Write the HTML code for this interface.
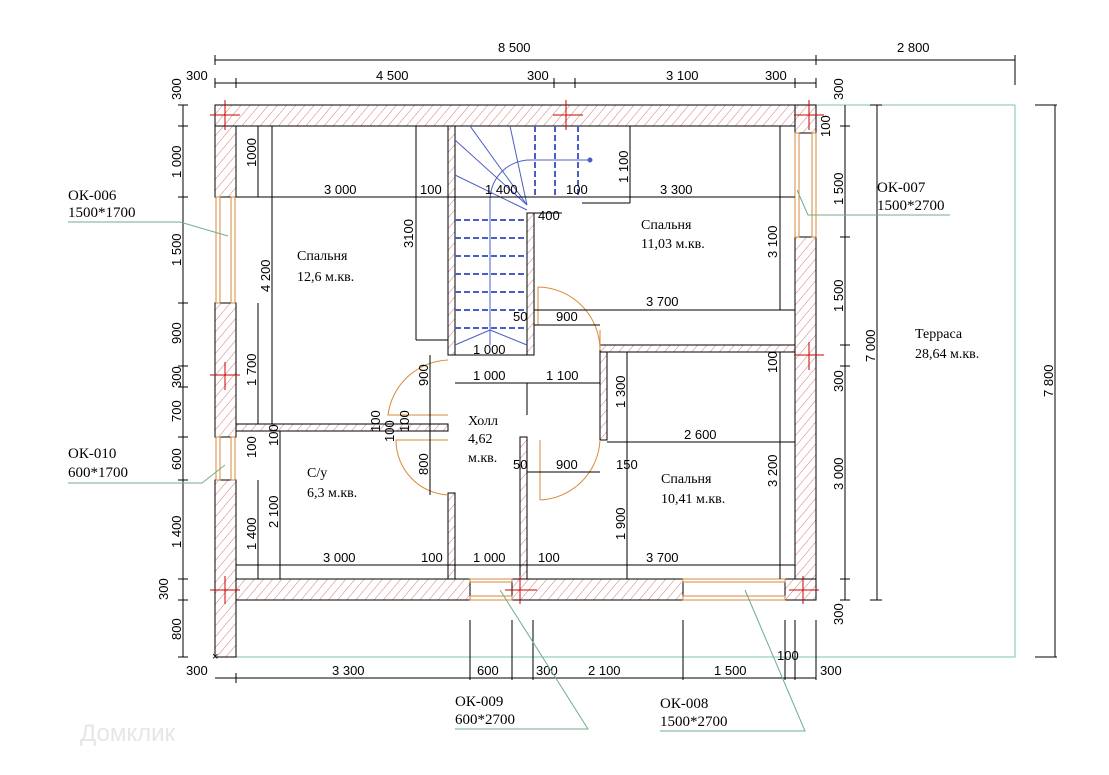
<!DOCTYPE html>
<html><head><meta charset="utf-8"><style>
html,body{margin:0;padding:0;background:#fff;}
svg{display:block;}
text{font-family:"Liberation Sans",sans-serif;font-size:13px;fill:#000;}
.s{font-family:"Liberation Serif",serif;font-size:15px;}
.r{font-family:"Liberation Serif",serif;font-size:14px;}
</style></head><body>
<svg width="1109" height="775" viewBox="0 0 1109 775" xmlns="http://www.w3.org/2000/svg">
<defs>
<pattern id="h" width="7" height="7" patternUnits="userSpaceOnUse" patternTransform="rotate(40)">
<rect width="7" height="7" fill="#fff"/><line x1="0" y1="0" x2="0" y2="7" stroke="#d65050" stroke-width="0.8"/>
</pattern>
</defs>
<!-- terrace outline -->
<g stroke="#7fbfb5" stroke-width="1" fill="none">
<polyline points="816,105 1015,105 1015,657 236,657"/>
</g>
<!-- outer walls -->
<g stroke="#000" stroke-width="1" fill="url(#h)">
<rect x="215" y="105" width="601" height="21"/>
<rect x="215" y="579" width="255" height="21"/>
<rect x="512" y="579" width="171" height="21"/>
<rect x="785" y="579" width="31" height="21"/>
<rect x="215" y="126" width="21" height="71"/>
<rect x="215" y="303" width="21" height="134"/>
<rect x="215" y="480" width="21" height="177"/>
<rect x="795" y="237" width="21" height="342"/>
<rect x="795" y="105" width="21" height="28"/>
<!-- interior walls -->
<rect x="236" y="424" width="212" height="7"/>
<rect x="448" y="126" width="7" height="229"/>
<rect x="527" y="213" width="7" height="142"/>
<rect x="600" y="345" width="195" height="7"/>
<rect x="600" y="352" width="7" height="88"/>
<rect x="448" y="493" width="7" height="86"/>
<rect x="520" y="437" width="7" height="142"/>
</g>
<!-- windows -->
<g stroke="#d98a3a" stroke-width="1" fill="#fff">
<rect x="216" y="197" width="4" height="106"/><rect x="231" y="197" width="4" height="106"/>
<rect x="216" y="437" width="4" height="43"/><rect x="231" y="437" width="4" height="43"/>
<rect x="795" y="133" width="4" height="104"/><rect x="812" y="133" width="4" height="104"/>
<rect x="470" y="579" width="42" height="3"/><rect x="470" y="596" width="42" height="4"/>
<rect x="683" y="579" width="102" height="3"/><rect x="683" y="596" width="102" height="4"/>
</g>
<!-- doors -->
<g stroke="#d98a3a" stroke-width="1" fill="none">
<path d="M538,287 A63,63 0 0 1 600,350 L600,330"/>
<path d="M538,287 L538,325"/>
<path d="M448,360 A63,63 0 0 0 388,415 L448,415"/>
<path d="M448,495 A55,55 0 0 1 396,440 L448,440"/>
<path d="M540,500 A63,63 0 0 0 600,440"/><path d="M540,440 L540,500"/>
</g>
<!-- stairs -->
<g stroke="#4a5ec8" stroke-width="1" fill="none">
<line x1="490" y1="200" x2="490" y2="345"/>
<path d="M490,200 A40,40 0 0 1 530,160 L590,160"/>
<line x1="455" y1="140" x2="527" y2="205"/><line x1="470" y1="126" x2="527" y2="205"/>
<line x1="510" y1="126" x2="527" y2="205"/><line x1="455" y1="175" x2="527" y2="210"/>
<line x1="455" y1="345" x2="490" y2="330"/><line x1="527" y1="345" x2="490" y2="330"/>
<circle cx="590" cy="160" r="2" fill="#4a5ec8"/>
</g>
<g stroke="#4a5ec8" stroke-width="2" stroke-dasharray="6,3">
<line x1="455" y1="220" x2="527" y2="220"/><line x1="455" y1="238" x2="527" y2="238"/>
<line x1="455" y1="256" x2="527" y2="256"/><line x1="455" y1="274" x2="527" y2="274"/>
<line x1="455" y1="292" x2="527" y2="292"/><line x1="455" y1="310" x2="527" y2="310"/>
<line x1="455" y1="328" x2="527" y2="328"/>
<line x1="535" y1="126" x2="535" y2="195"/><line x1="555" y1="126" x2="555" y2="195"/>
<line x1="578" y1="126" x2="578" y2="195"/>
</g>
<!-- pillars -->
<g stroke="#c00" stroke-width="1">
<path d="M210,115 h30 M225,100 v30 M794,115 h30 M809,100 v30 M553,115 h30 M566,100 v30 M210,375 h30 M225,362 v28 M794,355 h30 M809,342 v28 M210,590 h30 M225,576 v28 M505,590 h32 M520,576 v28 M789,590 h30 M803,576 v28"/>
</g>
<!-- dimension lines -->
<g stroke="#000" stroke-width="1" fill="none">
<line x1="215" y1="60" x2="1015" y2="60"/>
<line x1="215" y1="83" x2="816" y2="83"/>
<line x1="183" y1="105" x2="183" y2="657"/>
<line x1="845" y1="105" x2="845" y2="600"/>
<line x1="877" y1="105" x2="877" y2="600"/>
<line x1="1055" y1="105" x2="1055" y2="657"/>
<line x1="215" y1="678" x2="816" y2="678"/>
<path d="M215,55v10 M816,55v10 M1015,55v30 M215,78v10 M236,78v10 M554,78v10 M575,78v10 M795,78v10 M816,78v10"/>
<path d="M178,105h10 M178,126h10 M178,197h10 M178,303h10 M178,366h10 M178,387h10 M178,437h10 M178,480h10 M178,579h10 M178,600h10 M178,657h10"/>
<path d="M840,126h10 M840,237h10 M840,345h10 M840,366h10 M840,579h10 M840,600h10 M870,105h12 M870,600h12 M1035,105h22 M1035,657h22"/>
<path d="M470,620v60 M512,620v60 M533,620v60 M683,620v60 M785,620v60 M795,620v60 M816,620v60 M236,673v10"/>
<!-- interior dims -->
<line x1="236" y1="197" x2="795" y2="197"/>
<line x1="258" y1="126" x2="258" y2="197"/>
<line x1="272" y1="126" x2="272" y2="424"/>
<line x1="416" y1="126" x2="416" y2="340"/><line x1="416" y1="340" x2="448" y2="340"/>
<line x1="455" y1="355" x2="527" y2="355"/>
<line x1="534" y1="213" x2="562" y2="213"/>
<line x1="582" y1="203" x2="630" y2="203"/><line x1="630" y1="126" x2="630" y2="203"/>
<line x1="780" y1="126" x2="780" y2="310"/>
<line x1="534" y1="310" x2="795" y2="310"/>
<line x1="534" y1="325" x2="600" y2="325"/>
<line x1="258" y1="303" x2="258" y2="424"/>
<line x1="258" y1="480" x2="258" y2="579"/>
<line x1="280" y1="431" x2="280" y2="579"/>
<line x1="455" y1="383" x2="600" y2="383"/><line x1="527" y1="383" x2="527" y2="415"/>
<line x1="430" y1="355" x2="430" y2="495"/>
<line x1="627" y1="352" x2="627" y2="579"/>
<line x1="607" y1="442" x2="795" y2="442"/>
<line x1="780" y1="352" x2="780" y2="579"/>
<line x1="527" y1="472" x2="600" y2="472"/>
<line x1="236" y1="565" x2="795" y2="565"/>
</g>
<!-- top labels -->
<text x="498" y="52">8 500</text><text x="897" y="52">2 800</text>
<text x="186" y="80">300</text><text x="376" y="80">4 500</text><text x="527" y="80">300</text>
<text x="666" y="80">3 100</text><text x="765" y="80">300</text>
<text transform="translate(181,100) rotate(-90)">300</text>
<text transform="translate(843,100) rotate(-90)">300</text>
<!-- left labels -->
<g>
<text transform="translate(181,178) rotate(-90)">1 000</text>
<text transform="translate(181,266) rotate(-90)">1 500</text>
<text transform="translate(181,344) rotate(-90)">900</text>
<text transform="translate(181,388) rotate(-90)">300</text>
<text transform="translate(181,422) rotate(-90)">700</text>
<text transform="translate(181,470) rotate(-90)">600</text>
<text transform="translate(181,548) rotate(-90)">1 400</text>
<text transform="translate(168,600) rotate(-90)">300</text>
<text transform="translate(181,640) rotate(-90)">800</text>
</g>
<!-- right labels -->
<text transform="translate(830,137) rotate(-90)">100</text>
<text transform="translate(843,205) rotate(-90)">1 500</text>
<text transform="translate(843,312) rotate(-90)">1 500</text>
<text transform="translate(843,392) rotate(-90)">300</text>
<text transform="translate(843,490) rotate(-90)">3 000</text>
<text transform="translate(843,625) rotate(-90)">300</text>
<text transform="translate(875,362) rotate(-90)">7 000</text>
<text transform="translate(1053,397) rotate(-90)">7 800</text>
<!-- bottom labels -->
<text x="186" y="675">300</text><text x="332" y="675">3 300</text><text x="477" y="675">600</text>
<text x="536" y="675">300</text><text x="588" y="675">2 100</text><text x="714" y="675">1 500</text>
<text x="777" y="660">100</text><text x="820" y="675">300</text>
<!-- interior labels -->
<text x="324" y="194">3 000</text><text x="420" y="194">100</text><text x="485" y="194">1 400</text>
<text x="566" y="194">100</text><text x="660" y="194">3 300</text>
<text transform="translate(256,167) rotate(-90)">1000</text>
<text transform="translate(413,248) rotate(-90)">3100</text>
<text transform="translate(628,183) rotate(-90)">1 100</text>
<text transform="translate(777,258) rotate(-90)">3 100</text>
<text x="538" y="220">400</text>
<text transform="translate(270,292) rotate(-90)">4 200</text>
<text x="646" y="306">3 700</text>
<text x="513" y="321">50</text><text x="556" y="321">900</text>
<text x="473" y="354">1 000</text>
<text transform="translate(256,386) rotate(-90)">1 700</text>
<text transform="translate(428,386) rotate(-90)">900</text>
<text x="473" y="380">1 000</text><text x="546" y="380">1 100</text>
<text transform="translate(625,408) rotate(-90)">1 300</text>
<text transform="translate(777,373) rotate(-90)">100</text>
<text transform="translate(380,432) rotate(-90)">100</text>
<text transform="translate(394,442) rotate(-90)">100</text>
<text transform="translate(409,432) rotate(-90)">100</text>
<text x="684" y="439">2 600</text>
<text transform="translate(256,458) rotate(-90)">100</text>
<text transform="translate(278,446) rotate(-90)">100</text>
<text transform="translate(428,475) rotate(-90)">800</text>
<text x="513" y="469">50</text><text x="556" y="469">900</text><text x="616" y="469">150</text>
<text transform="translate(777,487) rotate(-90)">3 200</text>
<text transform="translate(278,528) rotate(-90)">2 100</text>
<text transform="translate(256,550) rotate(-90)">1 400</text>
<text transform="translate(625,540) rotate(-90)">1 900</text>
<text x="323" y="562">3 000</text><text x="421" y="562">100</text><text x="473" y="562">1 000</text>
<text x="538" y="562">100</text><text x="646" y="562">3 700</text>
<!-- room names -->
<text class="r" x="297" y="260">Спальня</text><text class="r" x="297" y="281">12,6 м.кв.</text>
<text class="r" x="641" y="229">Спальня</text><text class="r" x="641" y="248">11,03 м.кв.</text>
<text class="r" x="915" y="338">Терраса</text><text class="r" x="915" y="358">28,64 м.кв.</text>
<text class="r" x="468" y="425">Холл</text><text class="r" x="468" y="443">4,62</text><text class="r" x="468" y="462">м.кв.</text>
<text class="r" x="307" y="477">С/у</text><text class="r" x="307" y="497">6,3 м.кв.</text>
<text class="r" x="661" y="483">Спальня</text><text class="r" x="661" y="503">10,41 м.кв.</text>
<!-- window tags -->
<g stroke="#6fae8a" stroke-width="1" fill="none">
<polyline points="68,222 180,222 228,236"/>
<polyline points="950,215 808,215 797,190"/>
<polyline points="68,483 202,483 225,465"/>
<polyline points="455,729 588,729 500,590"/>
<polyline points="660,731 805,731 745,590"/>
</g>
<text class="s" x="68" y="200">ОК-006</text><text class="s" x="68" y="217">1500*1700</text>
<text class="s" x="877" y="192">ОК-007</text><text class="s" x="877" y="210">1500*2700</text>
<text class="s" x="68" y="458">ОК-010</text><text class="s" x="68" y="477">600*1700</text>
<text class="s" x="455" y="706">ОК-009</text><text class="s" x="455" y="724">600*2700</text>
<text class="s" x="660" y="708">ОК-008</text><text class="s" x="660" y="726">1500*2700</text>
<text x="212" y="660" style="font-size:11px">×</text>
<text x="80" y="741" style="font-size:24px;fill:#e6e6e6">Домклик</text>
</svg>
</body></html>
